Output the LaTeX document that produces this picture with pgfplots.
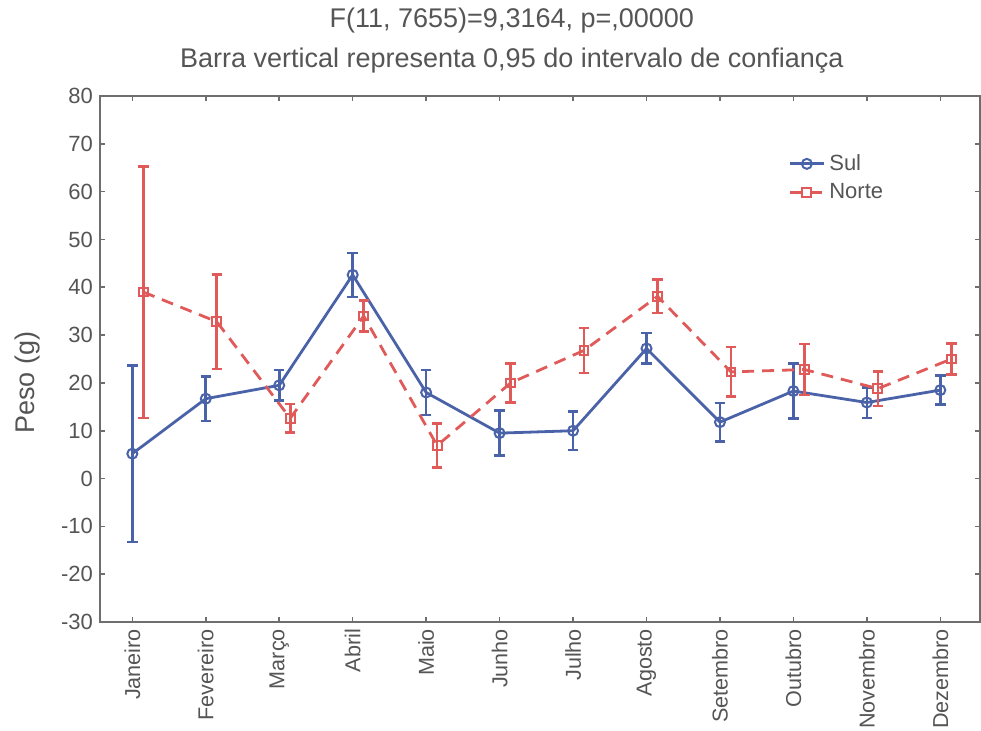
\documentclass[border=0pt]{standalone}
\usepackage{fontspec}
\setmainfont{Liberation Sans}
\usepackage{pgfplots}
\pgfplotsset{compat=1.18}
\usepackage{pgfplotstable}

\definecolor{sul}{HTML}{4A62A8}
\definecolor{norte}{HTML}{E05A5A}
\definecolor{txt}{HTML}{555555}
\definecolor{frm}{HTML}{6E6E6E}

% Sul: mean and half-width of 95% CI
\pgfplotstableread{
x y e
0 5.2 18.5
1 16.7 4.7
2 19.5 3.2
3 42.6 4.6
4 18.0 4.7
5 9.5 4.7
6 10.0 4.0
7 27.2 3.2
8 11.8 4.0
9 18.3 5.7
10 15.9 3.2
11 18.5 3.0
}\sul

% Norte, drawn slightly to the right of the category
\pgfplotstableread{
x y e
0.15 39.0 26.3
1.15 32.8 9.9
2.15 12.6 3.0
3.15 34.0 3.2
4.15 6.9 4.6
5.15 20.0 4.1
6.15 26.8 4.7
7.15 38.1 3.5
8.15 22.3 5.2
9.15 22.8 5.3
10.15 18.8 3.6
11.15 25.0 3.2
}\norte

\begin{document}
\begin{tikzpicture}
\begin{axis}[
  at={(0,0)}, anchor=south west,
  scale only axis, width=440pt, height=263pt,
  xmin=-0.44, xmax=11.54, ymin=-30, ymax=80,
  xtick={0,...,11},
  xticklabels={Janeiro,Fevereiro,Março,Abril,Maio,Junho,Julho,Agosto,Setembro,Outubro,Novembro,Dezembro},
  xticklabel style={rotate=90, anchor=east, font=\fontsize{10.8}{13}\selectfont, text=txt},
  ytick={-30,-20,...,80},
  yticklabels={-30,-20,-10,0,10,20,30,40,50,60,70,80},
  yticklabel style={font=\fontsize{11}{13}\selectfont, text=txt},
  tick align=inside, major tick length=2.5pt,
  tick style={frm, line width=0.8pt},
  axis line style={frm, line width=1.2pt},
  ylabel={Peso (g)},
  ylabel style={at={(axis description cs:-0.082,0.455)}, anchor=center,
    font=\fontsize{13.5}{15}\selectfont, text=txt},
  title={F(11, 7655)=9,3164, p=,00000\\Barra vertical representa 0,95 do intervalo de confiança},
  title style={at={(axis description cs:0.468,1)}, anchor=south, yshift=2pt,
    align=center, font=\fontsize{13.5}{20}\selectfont, text=txt},
  legend style={draw=none, fill=none, at={(axis description cs:0.775,0.905)},
    anchor=north west, font=\fontsize{11}{13}\selectfont, text=txt,
    row sep=1pt},
  legend cell align=left,
  legend image post style={sharp plot},
]
\addplot[sul, line width=1.4pt, mark=o, mark size=2.5pt,
  mark options={fill=white, solid, line width=1pt},
  error bars/.cd, y dir=both, y explicit,
  error bar style={line width=1.3pt, solid},
  error mark options={rotate=90, sul, mark size=2.6pt, line width=1.3pt}]
  table[x=x, y=y, y error=e] {\sul};
\addlegendentry{Sul}
\addplot[norte, line width=1.4pt, dash pattern=on 6pt off 4pt, mark=square, mark size=2.2pt,
  mark options={fill=white, solid, line width=1pt},
  error bars/.cd, y dir=both, y explicit,
  error bar style={line width=1.3pt, solid},
  error mark options={rotate=90, norte, mark size=2.6pt, line width=1.3pt}]
  table[x=x, y=y, y error=e] {\norte};
\addlegendentry{Norte}
\end{axis}
\pgfresetboundingbox
\path (-50pt,-54pt) rectangle (440.5pt,311pt);
\end{tikzpicture}
\end{document}
